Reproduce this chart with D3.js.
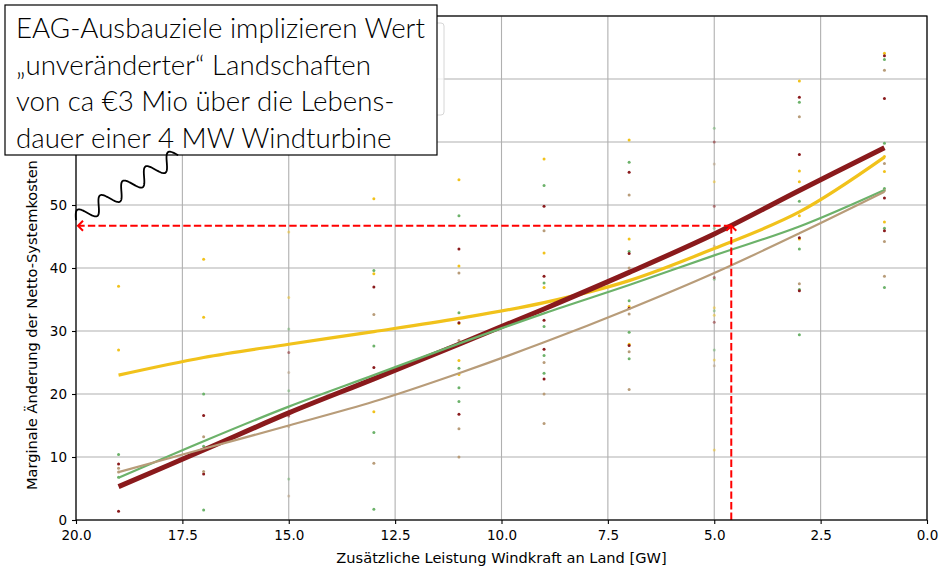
<!DOCTYPE html>
<html><head><meta charset="utf-8">
<script src="https://cdn.jsdelivr.net/npm/d3@7"></script>
<style>html,body{margin:0;padding:0;background:#fff;}svg{display:block;}</style>
</head><body>
<svg id="c" width="941" height="568"></svg>
<script>
// ---------------- data ----------------
const xCols = [19, 17, 15, 13, 11, 9, 7, 5, 3, 1];
const curveRed   = [5.3, 11.1, 17.0, 22.4, 27.9, 33.5, 39.3, 45.4, 52.3, 59.1];
const curveGold  = [23.0, 25.8, 27.9, 29.9, 32.0, 34.5, 38.0, 43.1, 48.9, 57.6];
const curveGreen = [6.7, 12.5, 18.0, 23.0, 28.0, 32.8, 37.3, 42.0, 46.6, 52.4];
const curveTan   = [7.6, 11.3, 15.0, 18.8, 23.3, 28.2, 33.5, 39.2, 45.5, 52.1];

const dotsGold = [[19,37.1],[19,27.0],[17,41.4],[17,32.2],[15,45.7],[15,35.3],[13,51.0],[13,39.1],[13,17.2],
  [11,54.0],[11,40.3],[11,31.2],[11,25.3],[11,23.1],[9,57.3],[9,42.4],[9,36.9],[7,60.3],[7,44.6],[7,33.9],[7,27.9],
  [5,53.7],[5,33.7],[5,32.5],[5,25.4],[5,11.1],[3,69.7],[3,55.4],[3,53.7],[3,48.3],[3,44.6],[1,74.1],[1,57.7],[1,55.3],[1,47.3]];
const dotsGreen = [[19,10.4],[19,6.8],[17,20.0],[17,11.7],[17,1.6],[15,30.3],[15,20.5],[15,6.5],[13,39.6],[13,27.6],[13,13.9],[13,1.7],
  [11,48.3],[11,32.9],[11,24.1],[11,21.0],[11,18.8],[9,53.1],[9,37.6],[9,30.7],[9,26.1],[9,23.3],[7,56.8],[7,42.6],[7,34.8],[7,29.8],[7,25.6],
  [5,62.2],[5,46.3],[5,38.2],[5,33.2],[5,27.0],[3,66.3],[3,50.6],[3,43.0],[3,36.6],[3,29.4],[1,73.1],[1,59.8],[1,52.6],[1,46.3],[1,36.9]];
const dotsRed = [[19,8.9],[19,1.4],[17,16.6],[17,7.3],[15,26.6],[15,16.5],[13,37.0],[13,24.2],[11,43.0],[11,31.3],[11,16.8],
  [9,49.8],[9,38.7],[9,31.7],[9,27.1],[9,22.4],[7,55.2],[7,42.3],[7,33.6],[7,27.7],[5,60.0],[5,49.8],[5,38.5],[5,31.4],
  [3,67.1],[3,58.0],[3,44.8],[3,36.4],[1,73.7],[1,66.9],[1,51.1],[1,45.9]];
const dotsTan = [[19,8.2],[19,7.6],[17,13.2],[17,7.7],[15,23.4],[15,14.8],[15,3.8],[13,32.6],[13,9.0],
  [11,39.2],[11,28.5],[11,14.5],[11,10.0],[9,45.9],[9,25.0],[9,20.0],[9,15.3],[7,51.6],[7,40.0],[7,32.7],[7,26.7],[7,20.7],
  [5,56.5],[5,43.5],[5,24.5],[3,64.0],[3,37.5],[1,71.4],[1,56.6],[1,52.3],[1,44.2],[1,38.7]];
const fadedCols = [15, 5];

const xTicks = [20.0, 17.5, 15.0, 12.5, 10.0, 7.5, 5.0, 2.5, 0.0];
const yTicks = [0, 10, 20, 30, 40, 50, 60, 70, 80];
const yTickLabelsShown = [0, 10, 20, 30, 40, 50]; // 60-80 are hidden under the note in the reference
const eagGW = 4.6, eagValue = 46.7;
const waveFrom = [17.6, 57.9], waveTo = [20.0, 47.6];
const xLabel = "Zusätzliche Leistung Windkraft an Land [GW]";
const yLabel = "Marginale Änderung der Netto-Systemkosten"; // visible part only (rest hidden under the note)
const noteLines = ["EAG-Ausbauziele implizieren Wert", "„unveränderter“ Landschaften",
  "von ca €3 Mio über die Lebens-", "dauer einer 4 MW Windturbine"];

// ---------------- chart ----------------
const svg = d3.select("#c");
const L = 76, R = 927, T = 16, B = 520;
const x = d3.scaleLinear().domain([20, 0]).range([L, R]);
const y = d3.scaleLinear().domain([0, 80]).range([B, T]);
const C = {red: "#8a1a1c", gold: "#f1c21b", green: "#6cb26a", tan: "#b89c79"};
const font = "DejaVu Sans, sans-serif";

// grid
svg.append("g").selectAll("line").data(xTicks).join("line")
  .attr("x1", d => x(d)).attr("x2", d => x(d)).attr("y1", T).attr("y2", B)
  .attr("stroke", "#b0b0b0").attr("stroke-width", 1.1);
svg.append("g").selectAll("line").data(yTicks).join("line")
  .attr("x1", L).attr("x2", R).attr("y1", d => y(d)).attr("y2", d => y(d))
  .attr("stroke", "#b0b0b0").attr("stroke-width", 1.1);

// dots
[[dotsGold, C.gold], [dotsGreen, C.green], [dotsRed, C.red], [dotsTan, C.tan]].forEach(([ds, col]) => {
  svg.append("g").selectAll("circle").data(ds).join("circle")
    .attr("cx", d => x(d[0])).attr("cy", d => y(d[1])).attr("r", 1.5)
    .attr("fill", col).attr("opacity", d => fadedCols.includes(d[0]) ? 0.5 : 1);
});

// curves
const line = d3.line().x(d => x(d[0])).y(d => y(d[1])).curve(d3.curveCatmullRom.alpha(0.5));
[[curveGold, C.gold, 3.2], [curveRed, C.red, 5], [curveGreen, C.green, 2.2], [curveTan, C.tan, 2.2]].forEach(([vals, col, w]) => {
  svg.append("path").datum(xCols.map((xc, i) => [xc, vals[i]]))
    .attr("d", line).attr("fill", "none").attr("stroke", col).attr("stroke-width", w);
});

// red dashed arrows
const ax = x(eagGW), ay = y(eagValue);
svg.append("line").attr("x1", ax).attr("y1", B).attr("x2", ax).attr("y2", ay + 1)
  .attr("stroke", "#ff0000").attr("stroke-width", 2).attr("stroke-dasharray", "7.4,3.2");
svg.append("line").attr("x1", ax).attr("y1", ay).attr("x2", L + 2).attr("y2", ay)
  .attr("stroke", "#ff0000").attr("stroke-width", 2).attr("stroke-dasharray", "7.4,3.2");
svg.append("path").attr("d", `M${ax - 5},${ay + 5} L${ax},${ay} L${ax + 5},${ay + 5}`)
  .attr("fill", "none").attr("stroke", "#ff0000").attr("stroke-width", 2);
svg.append("path").attr("d", `M${L + 7},${ay - 5} L${L + 2},${ay} L${L + 7},${ay + 5}`)
  .attr("fill", "none").attr("stroke", "#ff0000").attr("stroke-width", 2);

// spines
svg.append("rect").attr("x", L).attr("y", T).attr("width", R - L).attr("height", B - T)
  .attr("fill", "none").attr("stroke", "#000").attr("stroke-width", 1.2);

// axes
const xAxis = svg.append("g").attr("transform", `translate(0,${B})`)
  .call(d3.axisBottom(x).tickValues(xTicks).tickFormat(d3.format(".1f")).tickSize(4).tickPadding(6));
const yAxis = svg.append("g").attr("transform", `translate(${L},0)`)
  .call(d3.axisLeft(y).tickValues(yTicks).tickFormat(d => yTickLabelsShown.includes(d) ? d3.format("d")(d) : "").tickSize(4).tickPadding(5));
[xAxis, yAxis].forEach(g => {
  g.select(".domain").remove();
  g.selectAll("line").attr("stroke", "#000").attr("stroke-width", 1.1);
  g.selectAll("text").attr("font-family", font).attr("font-size", 13.5).attr("fill", "#000");
});
yAxis.selectAll("text").attr("dy", "0.3em");

svg.append("text").attr("x", (L + R) / 2).attr("y", 563).attr("text-anchor", "middle")
  .attr("font-family", font).attr("font-size", 14.6).text(xLabel);
svg.append("text").attr("transform", `translate(37,490) rotate(-90)`).attr("text-anchor", "start")
  .attr("font-family", font).attr("font-size", 14.6).text(yLabel);

// legend frame (mostly hidden under the note)
svg.append("rect").attr("x", 84).attr("y", 23).attr("width", 360).attr("height", 92).attr("rx", 3)
  .attr("fill", "#fff").attr("fill-opacity", 0.8).attr("stroke", "#d6d6d6").attr("stroke-width", 1);

// note box
svg.append("rect").attr("x", 5).attr("y", 5).attr("width", 432).attr("height", 150)
  .attr("fill", "#fff").attr("stroke", "#000").attr("stroke-width", 1.2);
const nt = svg.append("g").selectAll("text").data(noteLines).join("text")
  .attr("x", 16).attr("y", (d, i) => 38 + i * 36.7)
  .attr("font-family", "Lato, sans-serif").attr("font-weight", 300).attr("font-size", 28).attr("fill", "#000").text(d => d);
const w0 = nt.nodes()[0].getComputedTextLength();
nt.attr("font-size", 28 * 409 / w0);

// wavy connector
const p0 = [x(waveFrom[0]), y(waveFrom[1])], p1 = [x(waveTo[0]), y(waveTo[1])];
const dx = p1[0] - p0[0], dy = p1[1] - p0[1], len = Math.hypot(dx, dy);
const nx = -dy / len, ny = dx / len;
const periods = 4.5, amp = 8;
const pts = d3.range(0, 1.0001, 0.004).map(t => {
  const s = amp * Math.sin(2 * Math.PI * periods * t);
  return [p0[0] + dx * t + nx * s, p0[1] + dy * t + ny * s];
});
svg.append("path").attr("d", d3.line()(pts)).attr("fill", "none").attr("stroke", "#000").attr("stroke-width", 1.8);
</script>
</body></html>
